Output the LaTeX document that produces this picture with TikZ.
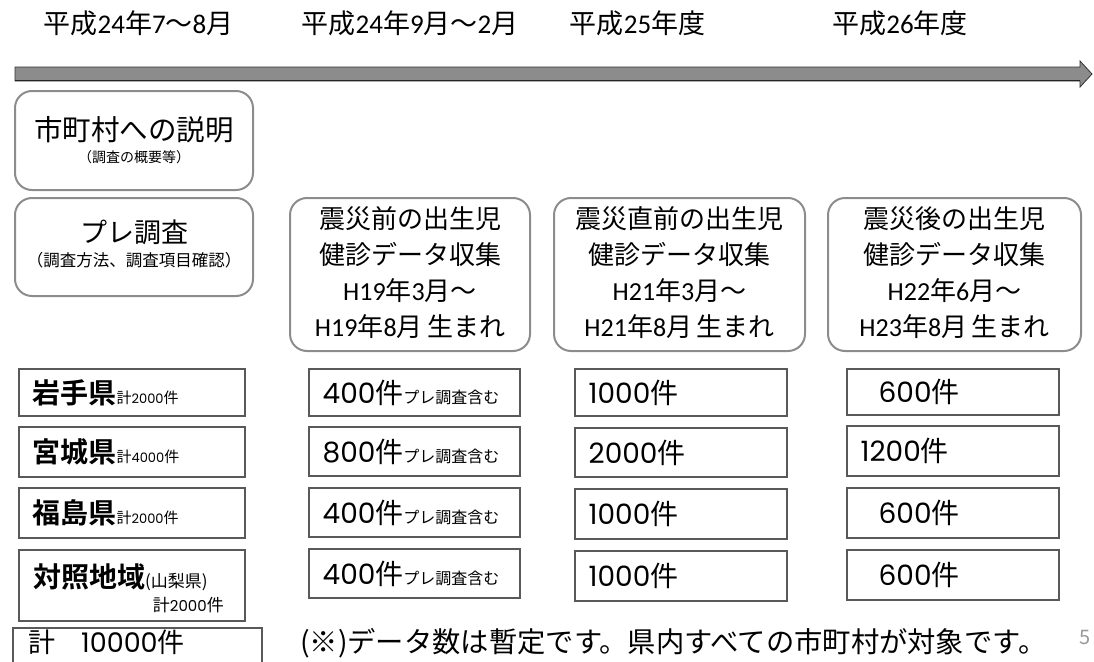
\documentclass[tikz,border=0pt]{standalone}
\usepackage{fontspec}
\setmainfont{Noto Sans CJK JP}
\newfontfamily\jp[BoldFont={Noto Sans CJK JP Bold}]{Noto Sans CJK JP}
\newfontfamily\car{Carlito}
\newfontfamily\pop{Poppins}
\newcommand\FS[1]{\fontsize{#1}{#1}\selectfont}
\usetikzlibrary{fit}
\begin{document}
\begin{tikzpicture}[x=1pt,y=-1pt,
  rbox/.style={draw=black!45, line width=2pt, rounded corners=17pt, inner sep=0pt},
  rect/.style={draw=black!65, line width=1.1pt, inner sep=0pt},
  toplab/.style={inner sep=0pt, font=\jp\FS{27}},
  rtxt/.style={inner sep=0pt, align=center, font=\jp\fontsize{26}{36}\selectfont},
  pref/.style={anchor=west, inner sep=0pt, font=\jp\bfseries\FS{28}},
  num/.style={anchor=west, inner sep=0pt, font=\jp\FS{28}},
  arrowbar/.style={fill=black!45, draw=black!80, line width=0.8pt}
]
\useasboundingbox (0,0) rectangle (1094,661);

% top labels
\node[toplab] (l1) at (138.5,23) {平成{\car 24}年{\car 7}〜{\car 8}月};
\node[toplab] (l2) at (410,23) {平成{\car 24}年{\car 9}月〜{\car 2}月};
\node[toplab] (l3) at (637.5,23) {平成{\car 25}年度};
\node[toplab] (l4) at (900,23) {平成{\car 26}年度};

% time arrow
\draw[arrowbar] (15,67) -- (1080,67) -- (1080,61) -- (1092,74) -- (1080,87) -- (1080,81) -- (15,81) -- cycle;
\draw[black!85, line width=1.2pt] (15,80.5) -- (1080,80.5);

% rounded boxes
\node[rbox, fit={(15,91) (253,190)}] (b1) {};
\node[inner sep=0pt, font=\jp\FS{28.5}] (b1t) at (134,130) {市町村への説明};
\node[inner sep=0pt, font=\jp\FS{14}] (b1s) at (134,157) {（調査の概要等）};

\node[rbox, fit={(15,198) (253,296)}] (b2) {};
\node[inner sep=0pt, font=\jp\FS{27}] (b2t) at (134,232) {プレ調査};
\node[inner sep=0pt, font=\jp\FS{16.5}] (b2s) at (134,260) {（調査方法、調査項目確認）};

\node[rbox, fit={(290,198) (530,351)}] (b3) {};
\node[rtxt] (b3t) at (410,273) {震災前の出生児\\健診データ収集\\{\car H19}年{\car 3}月〜\\{\car H19}年{\car 8}月\,生まれ};

\node[rbox, fit={(554,198) (805,351)}] (b4) {};
\node[rtxt] (b4t) at (679.5,273) {震災直前の出生児\\健診データ収集\\{\car H21}年{\car 3}月〜\\{\car H21}年{\car 8}月\,生まれ};

\node[rbox, fit={(828,198) (1081,351)}] (b5) {};
\node[rtxt] (b5t) at (954.5,273) {震災後の出生児\\健診データ収集\\{\car H22}年{\car 6}月〜\\{\car H23}年{\car 8}月\,生まれ};

% column 1: prefectures
\node[rect, fit={(19,369) (245,416)}] (p1) {};
\node[pref] (p1t) at ([xshift=14pt]p1.west) {岩手県{\mdseries\FS{15}計{\pop\FS{13}2000}件}};
\node[rect, fit={(19,427) (245,477)}] (p2) {};
\node[pref] (p2t) at ([xshift=14pt]p2.west) {宮城県{\mdseries\FS{15}計{\pop\FS{13}4000}件}};
\node[rect, fit={(19,488) (245,538)}] (p3) {};
\node[pref] (p3t) at ([xshift=14pt]p3.west) {福島県{\mdseries\FS{15}計{\pop\FS{13}2000}件}};
\node[rect, fit={(19,550) (245,621)}] (p4) {};
\node[pref] (p4t) at (33,577) {対照地域{\mdseries\FS{17}(山梨県)}};
\node[anchor=east, inner sep=0pt, font=\jp\FS{17}] (p4s) at (224,605) {計{\pop\FS{15}2000}件};

% total
\node[rect, fit={(13,628) (262,675)}] (tot) {};
\node[num, font=\jp\FS{27}] (tott) at (28,642) {計\hspace{26pt}{\pop 10000}件};

% column 2
\node[rect, fit={(309,369) (520,416)}] (c21) {};
\node[num] (c21t) at ([xshift=14pt]c21.west) {{\pop 400}件{\FS{16}プレ調査含む}};
\node[rect, fit={(309,427) (520,476)}] (c22) {};
\node[num] (c22t) at ([xshift=14pt]c22.west) {{\pop 800}件{\FS{16}プレ調査含む}};
\node[rect, fit={(309,488) (520,537)}] (c23) {};
\node[num] (c23t) at ([xshift=14pt]c23.west) {{\pop 400}件{\FS{16}プレ調査含む}};
\node[rect, fit={(309,549) (520,598)}] (c24) {};
\node[num] (c24t) at ([xshift=14pt]c24.west) {{\pop 400}件{\FS{16}プレ調査含む}};

% column 3
\node[rect, fit={(575,369) (787,416)}] (c31) {};
\node[num] (c31t) at ([xshift=14pt]c31.west) {{\pop 1000}件};
\node[rect, fit={(575,428) (787,477)}] (c32) {};
\node[num] (c32t) at ([xshift=14pt]c32.west) {{\pop 2000}件};
\node[rect, fit={(575,489) (787,539)}] (c33) {};
\node[num] (c33t) at ([xshift=14pt]c33.west) {{\pop 1000}件};
\node[rect, fit={(575,551) (787,601)}] (c34) {};
\node[num] (c34t) at ([xshift=14pt]c34.west) {{\pop 1000}件};

% column 4
\node[rect, fit={(847,369) (1059,415)}] (c41) {};
\node[num] (c41t) at ([xshift=32pt]c41.west) {{\pop 600}件};
\node[rect, fit={(847,426) (1059,476)}] (c42) {};
\node[num] (c42t) at ([xshift=14pt]c42.west) {{\pop 1200}件};
\node[rect, fit={(847,488) (1059,538)}] (c43) {};
\node[num] (c43t) at ([xshift=32pt]c43.west) {{\pop 600}件};
\node[rect, fit={(847,550) (1059,600)}] (c44) {};
\node[num] (c44t) at ([xshift=32pt]c44.west) {{\pop 600}件};

% footnote
\node[anchor=west, inner sep=0pt, font=\jp\FS{28.3}] (note) at (300,643) {(※)データ数は暫定です。県内すべての市町村が対象です。};
\node[anchor=west, inner sep=0pt, font=\jp\FS{20}, text=black!40] (pg) at (1079,637) {5};
\end{tikzpicture}
\end{document}
